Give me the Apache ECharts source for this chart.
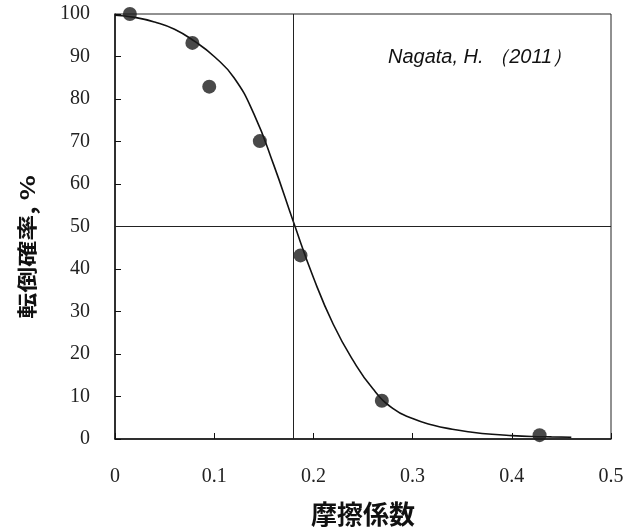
<!DOCTYPE html>
<html><head><meta charset="utf-8">
<script src="https://cdn.jsdelivr.net/npm/echarts@6/dist/echarts.min.js"></script>
<style>html,body{margin:0;padding:0;background:#fff}#c{width:634px;height:532px}</style>
</head><body><div id="c"></div>
<script>
// Observed points (friction coefficient, overturn probability %)
const pointX = [0.015, 0.078, 0.095, 0.146, 0.187, 0.269, 0.428];
const pointY = [100, 93.2, 82.9, 70.1, 43.2, 9.0, 0.9];
// Fitted curve
const curveX = [0, 0.02, 0.04, 0.06, 0.08, 0.10, 0.12, 0.14, 0.16, 0.18, 0.20, 0.22, 0.24, 0.26, 0.28, 0.30, 0.32, 0.34, 0.36, 0.38, 0.40, 0.42, 0.44, 0.46];
const curveY = [99.7, 99.2, 98.1, 96.4, 93.6, 90, 85, 76.5, 64.5, 51, 38, 27, 18.5, 11.8, 7.2, 4.8, 3.3, 2.3, 1.6, 1.1, 0.8, 0.6, 0.5, 0.4];
const xTicks = [0, 0.1, 0.2, 0.3, 0.4, 0.5];
const yTicks = [0, 10, 20, 30, 40, 50, 60, 70, 80, 90, 100];
const crossX = 0.181, crossY = 50;
const xName = '摩擦係数', yName = '転倒確率, %';
const note = 'Nagata, H. （2011）';

const chart = echarts.init(document.getElementById('c'));
chart.setOption({
  animation: false,
  backgroundColor: '#fff',
  grid: { left: 115, right: 23, top: 14, bottom: 90, show: true, borderColor: '#222', borderWidth: 1 },
  xAxis: {
    type: 'value', min: 0, max: 0.5, interval: 0.1,
    name: xName, nameLocation: 'middle', nameGap: 62,
    nameTextStyle: { fontFamily: 'Noto Sans CJK JP', fontWeight: 'bold', fontSize: 26, color: '#111' },
    axisLine: { lineStyle: { color: '#111', width: 1.5 } },
    axisTick: { inside: true, length: 6, lineStyle: { color: '#111' } },
    axisLabel: { margin: 28, fontFamily: 'Liberation Serif', fontSize: 20, color: '#222',
      formatter: v => xTicks.includes(+v.toFixed(1)) ? String(+v.toFixed(1)) : '' },
    splitLine: { show: false }
  },
  yAxis: {
    type: 'value', min: 0, max: 100, interval: 10,
    axisLine: { lineStyle: { color: '#111', width: 1.5 } },
    axisTick: { inside: true, length: 6, lineStyle: { color: '#111' } },
    axisLabel: { margin: 25, fontFamily: 'Liberation Serif', fontSize: 20, color: '#222',
      formatter: v => yTicks.includes(v) ? String(v) : '' },
    splitLine: { show: false }
  },
  series: [
    {
      type: 'line', data: curveX.map((x, i) => [x, curveY[i]]),
      smooth: 0.5, showSymbol: false, lineStyle: { color: '#111', width: 1.6 },
      markLine: {
        silent: true, symbol: 'none', label: { show: false },
        lineStyle: { color: '#222', width: 1, type: 'solid' },
        data: [{ xAxis: crossX }, { yAxis: crossY }]
      },
      z: 3
    },
    {
      type: 'scatter', data: pointX.map((x, i) => [x, pointY[i]]),
      symbol: 'circle', symbolSize: 14, itemStyle: { color: '#1c1c1c' }, z: 4
    }
  ],
  graphic: [
    {
      type: 'text', left: 388, top: 47,
      style: { text: note, fontFamily: 'Liberation Sans', fontStyle: 'italic', fontSize: 20, fill: '#111' }
    },
    {
      type: 'text', x: 27, y: 247, rotation: Math.PI / 2, scaleX: 1.3,
      style: { text: yName, fontFamily: 'Noto Sans CJK JP', fontWeight: 'bold', fontSize: 20, fill: '#111',
        align: 'center', verticalAlign: 'middle' }
    }
  ]
});
</script></body></html>
